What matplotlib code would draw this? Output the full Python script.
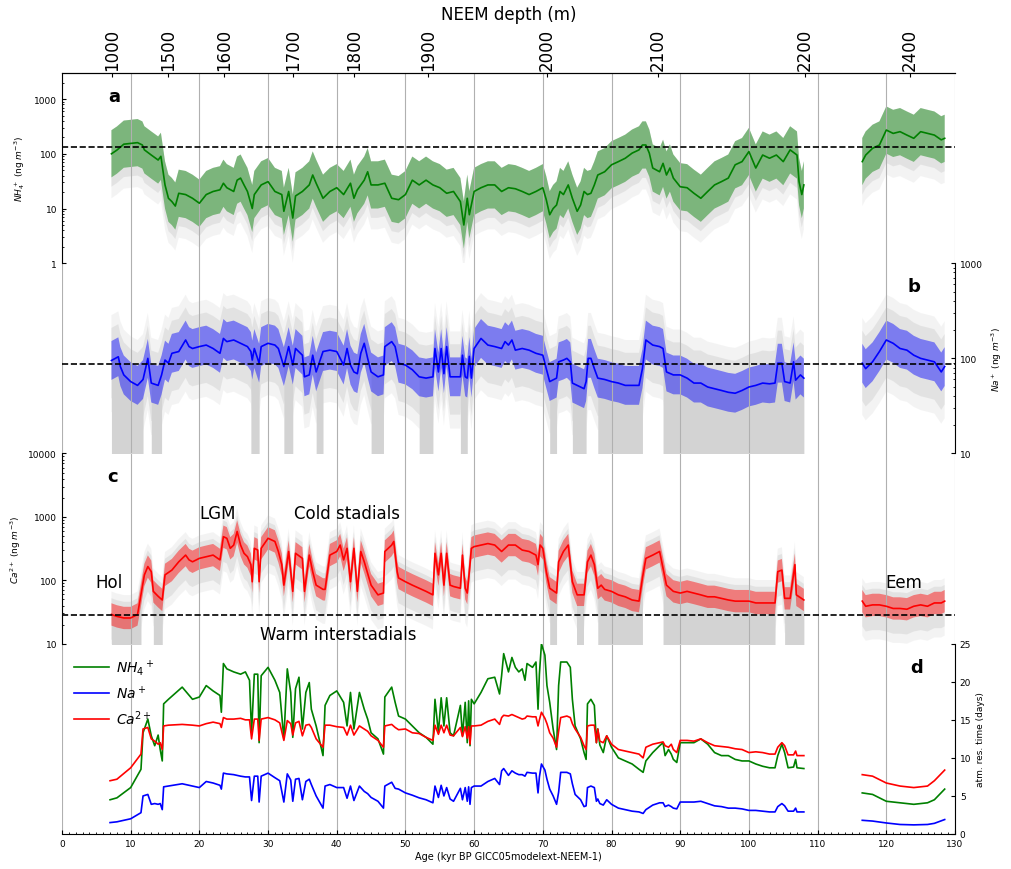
import numpy as np
import matplotlib
matplotlib.use('Agg')
import matplotlib.pyplot as plt
from matplotlib.ticker import FormatStrFormatter, NullFormatter, MultipleLocator

nan = np.nan

# ---- panel a: NH4+ running median (ng m-3)
nh4_age = [7.2, 8, 9, 10, 11, 11.7, 12, 13, 14, 14.4,
           15, 15.5, 16, 16.5, 17, 18, 19, 20, 21, 22,
           23, 23.5, 24, 25, 25.5, 26, 26.5, 27, 27.7, 28,
           29, 30, 31, 32, 32.3, 33, 33.6, 34, 35, 36,
           36.5, 37, 38, 39, 40, 41, 42, 42.5, 43, 44,
           44.5, 45, 46, 47, 48, 49, 50, 51, 52, 53,
           54, 55, 56, 57, 58, 58.5, 59, 59.3, 60, 61,
           62, 63, 64, 65, 66, 67, 68, 69, 70, 70.5,
           71, 71.5, 72, 72.5, 73, 73.7, 74.3, 75, 75.5, 76,
           76.5, 77, 77.5, 78, 79, 80, 81, 82, 83, 84,
           84.5, 85, 85.5, 86, 87, 87.5, 88, 88.5, 89, 90,
           91, 92, 93, 94, 95, 96, 97, 98, 99, 100,
           101, 102, 103, 104, 105, 106, 107, 107.3, 107.7, 108,
           112, 116.5, 117, 118, 119, 120, 121, 122, 123, 124,
           125, 126, 127, 128, 128.5]
nh4_med = [100, 117, 150, 155, 160, 145, 118, 95, 77, 90,
           27, 15.4, 13.4, 11.1, 19, 18, 15.4, 12.5, 18, 20.5,
           22, 29, 24, 20.5, 33, 36, 27, 20.5, 10, 18,
           27, 31, 20.5, 18, 8.9, 20.5, 6.7, 17, 20.5, 27,
           41, 29, 15.4, 20.5, 24, 18, 29, 15.4, 22, 33,
           47, 27, 27, 29, 15.4, 14.5, 18, 33, 27, 33,
           27, 24, 19, 20.5, 13.4, 5, 15.4, 7.7, 20.5, 24,
           27, 27, 20.5, 24, 23, 20.5, 18, 20.5, 24, 14.5,
           7.7, 10, 11.6, 20.5, 18, 27, 15.4, 8.9, 11.6, 20.5,
           18, 19, 27, 41, 47, 63, 72, 83, 103, 118,
           145, 145, 103, 55, 47, 67, 41, 55, 36, 25,
           24, 19, 15.4, 20.5, 27, 31, 36, 63, 72, 110,
           55, 95, 83, 95, 72, 118, 95, 31, 18, 27,
           nan, 72, 95, 126, 145, 272, 236, 254, 220, 192,
           254, 236, 220, 180, 192]

# ---- panel b: Na+ running median (ng m-3)
na_age = [7.2, 8.2, 8.5, 9, 10, 11, 11.8, 12.5, 13, 14,
          14.5, 15, 15.5, 16, 17, 18, 18.5, 19, 20, 21,
          22, 23, 23.5, 24, 25, 26, 27, 27.5, 27.7, 28,
          28.7, 29, 30, 31, 31.5, 32.3, 33, 33.6, 34, 35,
          35.3, 36, 36.5, 37, 38, 39, 40, 41, 41.5, 42,
          42.5, 43, 43.5, 44, 44.5, 45, 46, 46.8, 47, 48,
          48.5, 49, 50, 51, 52, 53, 54, 54.3, 54.8, 55.2,
          55.6, 56, 56.5, 57, 58, 58.3, 58.7, 59, 59.3, 59.6,
          60, 61, 62, 63, 64, 64.5, 65, 65.5, 66, 67,
          68, 69, 70, 70.5, 71, 72, 72.3, 73, 73.5, 74,
          74.3, 75, 76, 76.3, 76.6, 77, 77.5, 78, 79, 80,
          81, 82, 83, 84, 84.5, 85, 86, 87, 87.5, 88,
          89, 90, 91, 92, 93, 94, 95, 96, 97, 98,
          99, 100, 101, 102, 103, 103.8, 104.2, 104.8, 105.2, 106,
          106.5, 106.8, 107.5, 108, 112, 116.5, 117, 118, 119, 120,
          121, 122, 123, 124, 125, 126, 127, 128, 128.5]
na_med = [95, 104, 82, 67, 57, 52, 60, 100, 55, 52,
          67, 96, 89, 113, 118, 156, 133, 127, 133, 138,
          127, 113, 162, 150, 156, 144, 133, 118, 96, 127,
          89, 133, 144, 138, 127, 82, 133, 85, 127, 108,
          64, 67, 108, 72, 118, 122, 118, 85, 127, 85,
          72, 69, 113, 144, 100, 72, 64, 67, 133, 150,
          133, 89, 85, 76, 64, 62, 64, 127, 72, 127,
          69, 133, 64, 64, 64, 108, 64, 62, 105, 62,
          127, 162, 138, 133, 127, 150, 138, 156, 122, 127,
          122, 113, 108, 78, 57, 62, 92, 96, 100, 92,
          55, 52, 48, 57, 100, 100, 78, 62, 60, 57,
          55, 52, 52, 52, 78, 156, 138, 133, 127, 72,
          67, 67, 62, 55, 55, 50, 48, 46, 44, 43,
          46, 50, 52, 55, 54, 55, 89, 89, 57, 55,
          92, 59, 67, 62, nan, 89, 78, 92, 118, 156,
          144, 127, 122, 108, 100, 96, 92, 72, 82]

# ---- panel c: Ca2+ running median (ng m-3)
ca_age = [7.2, 8, 9, 10, 11, 11.5, 12, 12.5, 13, 13.3,
          14, 14.6, 15, 16, 17, 18, 18.5, 19, 20, 21,
          22, 23, 23.5, 24, 24.5, 25, 25.5, 26, 26.5, 27,
          27.5, 27.7, 28, 28.5, 28.7, 29, 30, 31, 31.5, 32,
          32.3, 33, 33.6, 34, 35, 35.3, 36, 36.5, 37, 38,
          38.3, 39, 40, 40.5, 41, 41.5, 42, 42.5, 43, 43.5,
          44, 45, 46, 46.8, 47, 48, 48.3, 48.8, 49, 50,
          51, 52, 53, 54, 54.3, 54.8, 55.2, 55.6, 56, 56.5,
          57, 58, 58.3, 58.7, 59, 59.3, 59.6, 60, 61, 62,
          63, 64, 65, 66, 67, 68, 69, 69.3, 69.6, 70,
          70.5, 71, 72, 72.3, 73, 73.7, 74.3, 75, 76, 76.5,
          77, 77.5, 78, 78.5, 79, 80, 81, 82, 83, 84,
          84.5, 85, 86, 87, 87.5, 88, 89, 90, 91, 92,
          93, 94, 95, 96, 97, 98, 99, 100, 101, 102,
          103, 103.8, 104.2, 104.8, 105.2, 106, 106.7, 106.9, 108, 112,
          116.5, 117, 118, 119, 120, 121, 122, 123, 124, 125,
          126, 127, 128, 128.5]
ca_med = [29, 27, 25.5, 25.5, 29, 59, 122, 165, 137, 67,
          56, 49, 122, 145, 196, 250, 210, 196, 222, 236,
          250, 210, 488, 460, 320, 360, 590, 360, 267, 236,
          177, 95, 320, 300, 95, 320, 460, 410, 285, 177,
          84, 285, 67, 267, 222, 67, 250, 137, 84, 72,
          72, 250, 285, 360, 210, 320, 95, 320, 67, 285,
          196, 84, 59, 63, 285, 360, 410, 137, 109, 95,
          84, 75, 67, 59, 267, 122, 267, 84, 267, 84,
          80, 75, 250, 75, 63, 137, 320, 340, 360, 380,
          360, 285, 360, 360, 300, 285, 250, 177, 360, 320,
          137, 75, 63, 196, 285, 360, 95, 59, 59, 196,
          250, 177, 75, 84, 72, 67, 59, 55, 49, 47,
          109, 222, 250, 285, 155, 84, 67, 63, 67, 63,
          59, 55, 55, 52, 49, 47, 47, 47, 44, 44,
          44, 44, 137, 145, 52, 52, 177, 59, 49, nan,
          47, 39, 41, 41, 39, 36, 36, 35, 39, 41,
          39, 44, 44, 47]

# reference (dashed) levels, ng m-3
nh4_ref = 132
na_ref = 88
ca_ref = 28

# age spans where the grey uncertainty reaches the bottom of the axis
na_floor = [(7.2, 11.8), (13, 14.5), (27.5, 28.7), (32.3, 33.6), (37, 38),
            (45, 46.8), (52, 54), (58, 59), (71, 72), (74.3, 76.3),
            (78, 84.5), (87.5, 108)]
ca_floor = [(7.2, 11.5), (13.3, 14.6), (71, 72), (75, 76), (78, 84.5),
            (87.5, 103.8), (105.2, 108)]

# ---- panel d: atmospheric residence time (days)
res_age = [7, 8, 10, 11.5, 11.8, 12.5, 13, 13.5, 14, 14.3,
           14.6, 14.8, 15.5, 17.5, 19, 20, 21, 22, 23, 23.2,
           23.5, 24, 25, 26, 26.7, 27.3, 27.6, 28, 28.5, 28.7,
           29, 30, 31, 31.7, 32.3, 32.8, 33.3, 33.6, 34, 34.5,
           35, 35.5, 36, 36.3, 37, 38, 38.3, 39, 40, 41,
           41.5, 42, 42.5, 43.3, 44, 44.5, 45, 46, 46.8, 47,
           48, 48.5, 49, 50, 51, 52, 53, 54, 54.3, 54.8,
           55.2, 55.6, 56, 56.5, 57, 58, 58.3, 58.7, 59, 59.2,
           59.4, 59.6, 60, 61, 62, 63, 63.7, 64, 64.3, 65,
           65.5, 66, 66.5, 67, 67.4, 67.7, 68.5, 69, 69.3, 69.5,
           69.8, 70.3, 70.6, 71, 71.5, 72, 72.3, 72.6, 73.5, 74,
           74.3, 74.7, 75.5, 76, 76.3, 76.5, 77, 77.5, 77.8, 78,
           78.3, 78.8, 79.3, 80, 81, 82, 83, 84, 84.6, 85,
           86, 87, 87.5, 87.8, 88.3, 88.7, 89, 89.5, 90, 91,
           92, 93, 94, 95, 96, 97, 98, 99, 100, 101,
           102, 103, 103.8, 104.2, 104.8, 105.2, 105.7, 106.5, 106.8, 107,
           108, 112, 116.5, 118, 120, 122, 124, 126, 127, 128.5]
res_nh4 = [4.5, 4.75, 6.1, 8.5, 13.3, 15.1, 12.9, 11.6, 13.0, 11.1,
           9.6, 17.1, 17.7, 19.3, 17.7, 18.0, 19.5, 18.8, 18.2, 16.0,
           22.4, 21.7, 21.3, 21.0, 21.3, 20.2, 13.3, 21.0, 21.0, 12.0,
           20.8, 21.9, 20.2, 18.6, 12.5, 21.7, 18.6, 12.7, 19.1, 20.6,
           13.8, 18.6, 19.9, 16.4, 14.2, 10.3, 16.9, 18.2, 18.8, 17.3,
           14.2, 18.6, 13.8, 18.6, 16.4, 15.1, 13.3, 12.5, 10.5, 18.0,
           19.3, 17.3, 15.5, 15.1, 14.2, 13.3, 12.7, 11.8, 17.7, 13.3,
           17.9, 14.2, 17.9, 13.3, 12.9, 16.9, 12.9, 17.3, 12.0, 17.5,
           11.6, 17.7, 17.1, 18.6, 20.4, 20.6, 18.4, 20.8, 23.7, 21.3,
           23.2, 21.9, 21.3, 21.7, 20.2, 22.4, 21.9, 22.6, 16.4, 21.0,
           25.0, 23.5, 19.5, 17.3, 13.8, 11.1, 19.5, 22.6, 22.6, 21.9,
           17.7, 14.2, 12.5, 10.7, 9.8, 17.1, 17.7, 16.9, 12.0, 13.8,
           11.7, 10.7, 12.9, 11.4, 10.0, 9.6, 9.2, 8.5, 8.1, 9.6,
           10.7, 11.6, 12.0, 10.3, 11.1, 10.5, 9.8, 9.4, 12.0, 12.0,
           12.0, 12.5, 11.8, 10.7, 10.3, 10.3, 9.8, 9.6, 9.6, 9.2,
           8.9, 8.7, 8.7, 10.3, 11.8, 10.7, 8.7, 8.8, 9.8, 8.7,
           8.6, nan, 5.4, 5.2, 4.3, 4.1, 3.9, 4.1, 4.5, 5.9]
res_na = [1.5, 1.6, 2.0, 2.8, 5.0, 5.2, 3.9, 4.0, 3.9, 4.0,
          3.2, 6.2, 6.3, 6.6, 6.3, 6.1, 6.9, 6.7, 6.4, 5.9,
          8.0, 7.9, 7.8, 7.6, 7.5, 7.5, 4.4, 7.6, 7.6, 4.2,
          7.6, 8.0, 7.4, 7.0, 4.2, 7.9, 7.1, 4.3, 7.2, 7.3,
          4.5, 6.9, 7.2, 6.5, 5.0, 3.4, 6.3, 6.5, 6.1, 6.1,
          4.7, 6.3, 4.4, 6.3, 5.6, 5.3, 4.8, 4.3, 3.4, 6.3,
          6.8, 6.0, 5.9, 5.4, 5.1, 4.75, 4.5, 4.1, 6.3, 4.8,
          6.4, 5.0, 6.1, 4.6, 4.3, 6.0, 4.5, 6.1, 4.3, 6.2,
          3.9, 6.1, 6.3, 6.3, 6.9, 7.3, 6.5, 8.3, 8.6, 7.7,
          8.3, 8.0, 7.8, 7.8, 7.6, 8.1, 8.0, 8.0, 5.4, 7.5,
          9.2, 8.4, 7.2, 5.9, 5.0, 3.9, 5.5, 8.1, 8.1, 7.9,
          6.6, 5.2, 4.5, 3.6, 3.7, 6.1, 6.3, 6.1, 4.3, 4.6,
          4.0, 3.8, 4.5, 3.9, 3.4, 3.2, 3.0, 2.9, 2.7, 3.2,
          3.8, 4.1, 4.1, 3.6, 3.8, 3.6, 3.4, 3.3, 4.2, 4.2,
          4.2, 4.3, 4.0, 3.7, 3.6, 3.4, 3.4, 3.3, 3.1, 3.1,
          3.0, 2.9, 2.9, 3.6, 4.0, 3.7, 3.0, 3.0, 3.4, 2.9,
          2.9, nan, 1.8, 1.7, 1.45, 1.25, 1.2, 1.25, 1.4, 1.9]
res_ca = [7.0, 7.2, 8.7, 10.5, 13.8, 14.0, 12.5, 12.2, 11.8, 12.0,
          11.1, 14.2, 14.3, 14.4, 14.3, 14.2, 14.5, 14.7, 14.5, 14.0,
          15.3, 15.1, 15.1, 15.2, 15.0, 15.0, 12.5, 15.1, 15.1, 12.3,
          15.1, 15.3, 15.0, 14.6, 12.3, 14.9, 14.5, 13.0, 14.6, 14.8,
          12.9, 14.3, 14.4, 14.0, 12.5, 11.4, 14.3, 14.3, 14.1, 14.0,
          13.0, 14.3, 13.0, 14.2, 13.8, 13.5, 12.9, 12.3, 11.4, 14.2,
          14.4, 14.0, 13.7, 13.8, 13.3, 13.2, 12.7, 12.3, 14.3, 13.1,
          14.3, 13.3, 14.3, 13.0, 12.9, 14.0, 12.8, 14.1, 12.6, 14.1,
          11.8, 14.2, 14.2, 14.3, 14.8, 15.1, 14.4, 15.3, 15.6, 15.5,
          15.7, 15.5, 15.3, 15.1, 15.2, 15.5, 15.4, 15.4, 14.2, 15.0,
          16.0, 15.2, 14.5, 13.3, 12.6, 11.4, 13.5, 15.3, 15.5, 15.3,
          14.5, 13.8, 12.7, 11.6, 11.1, 14.2, 14.3, 14.3, 12.0, 13.8,
          12.2, 12.0, 12.9, 11.8, 11.1, 10.9, 10.7, 10.5, 10.0, 11.4,
          11.8, 12.0, 12.1, 11.6, 11.4, 11.8, 11.1, 10.7, 12.3, 12.3,
          12.2, 12.5, 12.0, 11.6, 11.5, 11.4, 11.2, 11.1, 10.7, 10.8,
          10.7, 10.5, 10.5, 11.4, 12.0, 11.6, 10.4, 10.4, 10.9, 10.3,
          10.3, nan, 7.8, 7.6, 6.7, 6.3, 6.1, 6.3, 7.0, 8.4]

# top axis: NEEM depth against age
depth_labels = [1000, 1500, 1600, 1700, 1800, 1900, 2000, 2100, 2200, 2400]
depth_age = [7.3, 15.5, 23.6, 33.6, 42.5, 53.3, 70.6, 86.7, 108.1, 123.4]


def conc_panel(ax, age, med, color, band, grey_in, grey_out, floor, ybot):
    age = np.array(age, dtype=float)
    med = np.array(med, dtype=float)
    ax.fill_between(age, med / grey_out[0], med * grey_out[1],
                    color='lightgrey', alpha=0.25, lw=0)
    ax.fill_between(age, med / grey_in[0], med * grey_in[1],
                    color='lightgrey', alpha=0.5, lw=0)
    for a0, a1 in floor:
        m = (age >= a0) & (age <= a1)
        ax.fill_between(age, ybot, med, where=m, color='lightgrey', lw=0)
    ax.fill_between(age, med / band, med * band, color=color, alpha=0.45, lw=0)
    ax.plot(age, med, color=color, lw=1.2)


fig = plt.figure(figsize=(10.11, 8.7), dpi=100)
L, W, H, B = 0.0613, 0.8833, 0.21868, 0.04023
ax_d = fig.add_axes([L, B, W, H])
ax_c = fig.add_axes([L, B + H, W, H], sharex=ax_d)
ax_b = fig.add_axes([L, B + 2 * H, W, H], sharex=ax_d)
ax_a = fig.add_axes([L, B + 3 * H, W, H], sharex=ax_d)

conc_panel(ax_a, nh4_age, nh4_med, 'green', 2.7, (4.0, 2.7), (6.5, 2.7), [], 0.5)
conc_panel(ax_b, na_age, na_med, 'blue', 1.6, (2.5, 2.2), (3.5, 3.0), na_floor, 5)
conc_panel(ax_c, ca_age, ca_med, 'red', 1.5, (2.5, 1.8), (3.5, 2.3), ca_floor, 5)

ax_a.axhline(nh4_ref, color='k', ls='--', lw=1.2)
ax_b.axhline(na_ref, color='k', ls='--', lw=1.2)
ax_c.axhline(ca_ref, color='k', ls='--', lw=1.2)

ax_d.plot(res_age, res_nh4, color='green', lw=1.2, label=r'$NH_4{}^+$')
ax_d.plot(res_age, res_na, color='blue', lw=1.2, label=r'$Na^+$')
ax_d.plot(res_age, res_ca, color='red', lw=1.2, label=r'$Ca^{2+}$')

for ax in (ax_a, ax_b, ax_c, ax_d):
    ax.set_facecolor('none')
    ax.set_xlim(0, 130)
    ax.grid(axis='x', color='#b0b0b0', lw=0.8)
    ax.tick_params(axis='both', which='both', direction='in', labelsize=6.5)
    ax.tick_params(which='major', length=3)
    ax.tick_params(which='minor', length=1.5)
    for s in ax.spines.values():
        s.set_visible(False)

ax_d.xaxis.set_major_locator(MultipleLocator(10))
ax_d.xaxis.set_minor_locator(MultipleLocator(1))
for ax in (ax_a, ax_b, ax_c):
    ax.tick_params(axis='x', which='both', bottom=False, top=False,
                   labelbottom=False)
ax_d.tick_params(axis='x', which='both', bottom=True, top=False)

for ax, lim in ((ax_a, (1, 3000)), (ax_b, (10, 1000)), (ax_c, (10, 10000))):
    ax.set_yscale('log')
    ax.set_ylim(*lim)
    ax.yaxis.set_major_formatter(FormatStrFormatter('%d'))
    ax.yaxis.set_minor_formatter(NullFormatter())
ax_d.set_ylim(0, 25)
ax_d.yaxis.set_major_locator(MultipleLocator(5))

ax_a.spines['left'].set_visible(True)
ax_a.spines['top'].set_visible(True)
ax_c.spines['left'].set_visible(True)
ax_b.spines['right'].set_visible(True)
ax_d.spines['right'].set_visible(True)
ax_d.spines['bottom'].set_visible(True)
for ax in (ax_b, ax_d):
    ax.yaxis.tick_right()
    ax.yaxis.set_label_position('right')

ax_a.set_ylabel(r'$NH_4^+$ (ng $m^{-3}$)', fontsize=6.5, labelpad=5)
ax_b.set_ylabel(r'$Na^+$ (ng $m^{-3}$)', fontsize=6.5, labelpad=5)
ax_c.set_ylabel(r'$Ca^{2+}$ (ng $m^{-3}$)', fontsize=6.5, labelpad=4)
ax_d.set_ylabel('atm. res. time (days)', fontsize=6.5, labelpad=3)
ax_d.set_xlabel('Age (kyr BP GICC05modelext-NEEM-1)', fontsize=7, labelpad=2)

for ax, lab, x in ((ax_a, 'a', 0.059), (ax_b, 'b', 0.954),
                   (ax_c, 'c', 0.057), (ax_d, 'd', 0.957)):
    ax.text(x, 0.88, lab, transform=ax.transAxes, fontsize=13,
            fontweight='bold', ha='center', va='center')

ax_c.text(6.85, 95, 'Hol', fontsize=12, ha='center', va='center')
ax_c.text(22.6, 1170, 'LGM', fontsize=12, ha='center', va='center')
ax_c.text(41.5, 1170, 'Cold stadials', fontsize=12, ha='center', va='center')
ax_c.text(40.2, 14.4, 'Warm interstadials', fontsize=12, ha='center', va='center')
ax_c.text(122.6, 95, 'Eem', fontsize=12, ha='center', va='center')

ax_d.legend(loc='upper left', bbox_to_anchor=(0.0, 0.995), frameon=False,
            fontsize=10, labelspacing=0.5, handlelength=2.5, handletextpad=0.5)

ax_top = ax_a.twiny()
ax_top.set_xlim(0, 130)
ax_top.set_xticks(depth_age)
ax_top.set_xticklabels([str(d) for d in depth_labels], rotation=90, fontsize=12)
ax_top.tick_params(axis='x', direction='in', length=3, pad=2)
for k in ('left', 'right', 'bottom'):
    ax_top.spines[k].set_visible(False)
ax_a.tick_params(axis='x', which='both', bottom=False, top=False, labelbottom=False)
fig.text(0.503, 0.9828, 'NEEM depth (m)', fontsize=12, ha='center', va='center')

fig.savefig('out.png', dpi=100)
